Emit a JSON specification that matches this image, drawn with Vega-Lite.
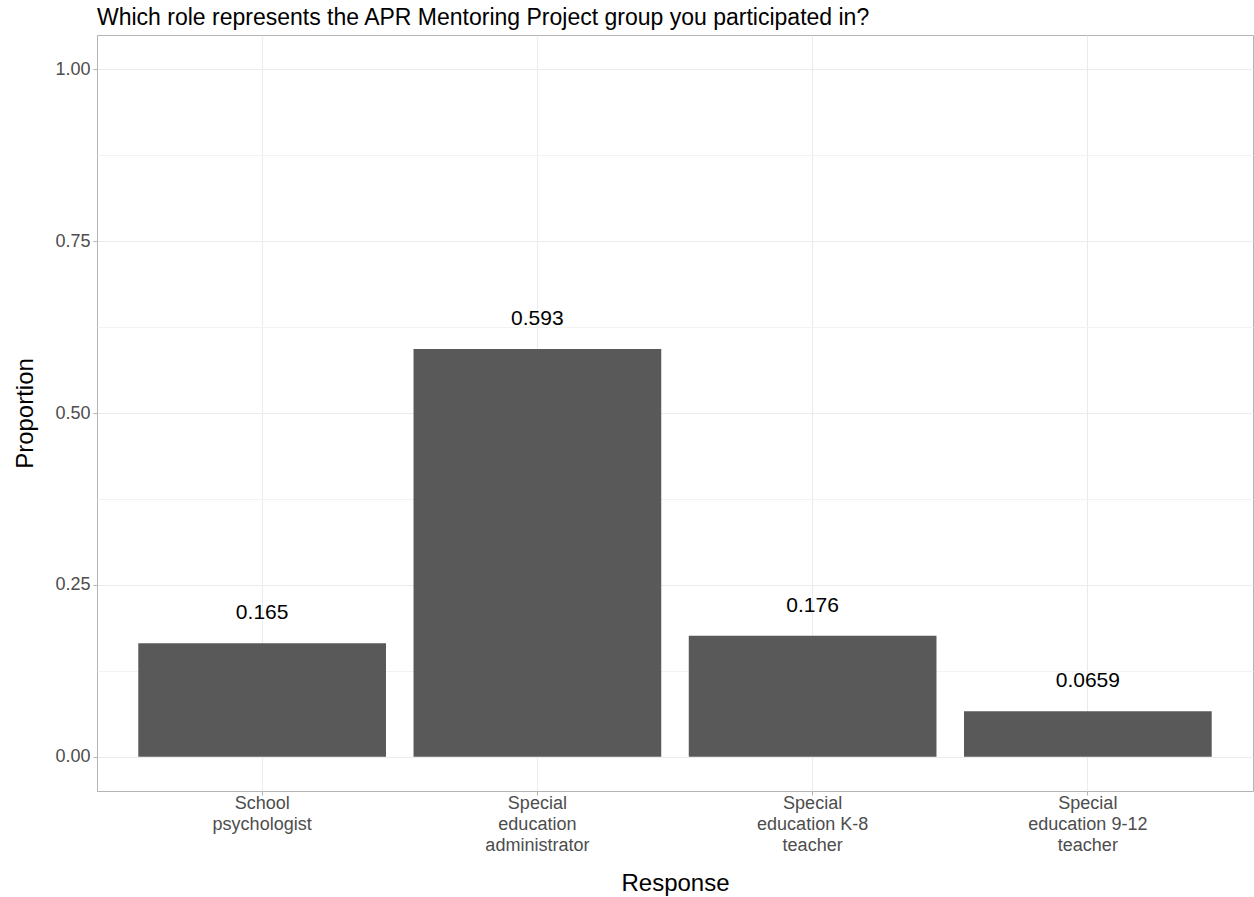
{
  "$schema": "https://vega.github.io/schema/vega-lite/v6.json",
  "width": 1156,
  "height": 756,
  "autosize": {"type": "none"},
  "padding": {"left": 97, "top": 35, "right": 1, "bottom": 106},
  "background": "white",
  "title": {
    "text": "Which role represents the APR Mentoring Project group you participated in?",
    "anchor": "start",
    "frame": "group",
    "font": "Liberation Sans",
    "fontSize": 23,
    "fontWeight": "normal",
    "color": "black",
    "offset": 5
  },
  "config": {
    "font": "Liberation Sans",
    "view": {"stroke": "#b3b3b3", "strokeWidth": 1}
  },
  "data": {
    "values": [
      {"response": "School psychologist", "proportion": 0.165, "label": "0.165"},
      {"response": "Special education administrator", "proportion": 0.593, "label": "0.593"},
      {"response": "Special education K-8 teacher", "proportion": 0.176, "label": "0.176"},
      {"response": "Special education 9-12 teacher", "proportion": 0.0659, "label": "0.0659"}
    ]
  },
  "encoding": {
    "x": {
      "field": "response",
      "type": "nominal",
      "sort": null,
      "title": "Response",
      "scale": {"paddingInner": 0.1, "paddingOuter": 0.15},
      "axis": {
        "labelAngle": 0,
        "labelExpr": "datum.label == 'School psychologist' ? ['School', 'psychologist'] : datum.label == 'Special education administrator' ? ['Special', 'education', 'administrator'] : datum.label == 'Special education K-8 teacher' ? ['Special', 'education K-8', 'teacher'] : ['Special', 'education 9-12', 'teacher']",
        "labelFontSize": 18,
        "labelColor": "#4d4d4d",
        "labelLineHeight": 21,
        "labelPadding": -1,
        "domain": false,
        "grid": true,
        "gridColor": "#ebebeb",
        "gridWidth": 1,
        "bandPosition": 0.5,
        "tickBand": "center",
        "tickColor": "#b3b3b3",
        "tickSize": 4,
        "titleFontSize": 24,
        "titleFontWeight": "normal",
        "titleColor": "black",
        "titlePadding": 17
      }
    }
  },
  "layer": [
    {
      "mark": {"type": "bar", "color": "#595959"},
      "encoding": {
        "y": {
          "field": "proportion",
          "type": "quantitative",
          "title": "Proportion",
          "scale": {"domain": [-0.05, 1.05], "nice": false, "zero": false},
          "axis": {
            "values": [0, 0.125, 0.25, 0.375, 0.5, 0.625, 0.75, 0.875, 1],
            "labelExpr": "datum.value % 0.25 === 0 ? format(datum.value, '.2f') : ''",
            "labelFontSize": 18,
            "labelColor": "#4d4d4d",
            "labelPadding": 3,
            "domain": false,
            "grid": true,
            "gridColor": {"condition": {"test": "datum.value % 0.25 !== 0", "value": "#f2f2f2"}, "value": "#ebebeb"},
            "gridWidth": 1,
            "tickColor": {"condition": {"test": "datum.value % 0.25 !== 0", "value": "transparent"}, "value": "#b3b3b3"},
            "tickSize": 4,
            "titleFontSize": 24,
            "titleFontWeight": "normal",
            "titleColor": "black",
            "titlePadding": 17
          }
        },
        "y2": {"datum": 0}
      }
    },
    {
      "mark": {"type": "text", "baseline": "middle", "align": "center", "dy": -30, "fontSize": 21, "color": "black"},
      "encoding": {
        "y": {"field": "proportion", "type": "quantitative"},
        "text": {"field": "label"}
      }
    }
  ]
}
